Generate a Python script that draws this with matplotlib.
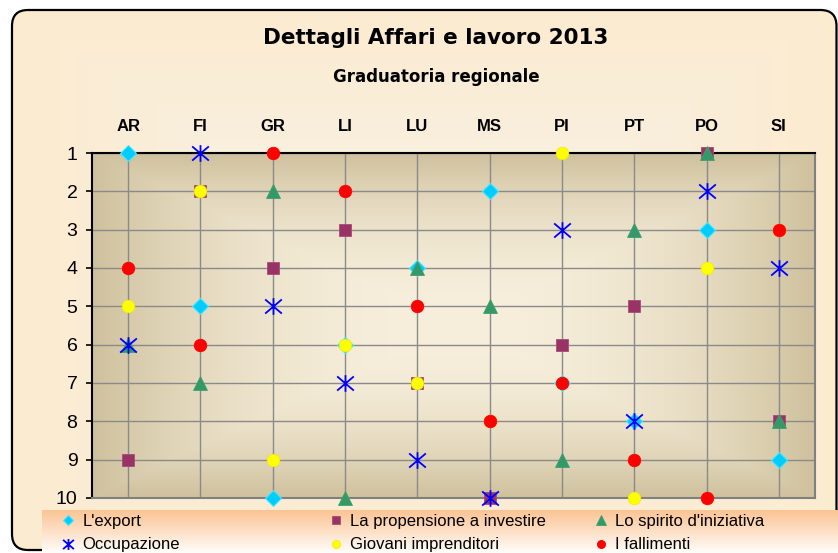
import numpy as np
import matplotlib.pyplot as plt
from matplotlib import font_manager
from matplotlib.patches import FancyBboxPatch
from matplotlib.path import Path

# --------------------------
# Dati (graduatoria 1-10 per provincia)
# --------------------------
province = ["AR", "FI", "GR", "LI", "LU", "MS", "PI", "PT", "PO", "SI"]
export = [1, 5, 10, 6, 4, 2, 7, 8, 3, 9]
propensione = [9, 2, 4, 3, 7, 10, 6, 5, 1, 8]
spirito = [6, 7, 2, 10, 4, 5, 9, 3, 1, 8]
occupazione = [6, 1, 5, 7, 9, 10, 3, 8, 2, 4]
giovani = [5, 2, 9, 6, 7, 8, 1, 10, 4, 3]
fallimenti = [4, 6, 1, 2, 5, 8, 7, 9, 10, 3]
ranghi = list(range(1, 11))

W, H = 838, 553
fig = plt.figure(figsize=(W / 100, H / 100), dpi=100)
fig.patch.set_facecolor("white")


def gradiente(nx, ny, c_centro, c_bordo, k):
    u = np.abs(np.linspace(-1, 1, nx))
    v = np.abs(np.linspace(-1, 1, ny))
    t = np.maximum(u[None, :], v[:, None]) ** k
    c0 = np.array(c_centro) / 255
    c1 = np.array(c_bordo) / 255
    return c0 + (c1 - c0) * t[..., None]


# --------------------------
# Sfondo con cornice arrotondata
# --------------------------
bg = fig.add_axes([0, 0, 1, 1])
bg.axis("off")
cornice = FancyBboxPatch((12, 10), 824.5, 540, boxstyle="round,pad=0,rounding_size=16",
                         fc="none", ec="black", lw=1.6, zorder=3)
bg.add_patch(cornice)
img = bg.imshow(gradiente(400, 300, (247, 242, 231), (252, 235, 207), 1.3),
                extent=(12, 836.5, 550, 10), aspect="auto", zorder=1)
img.set_clip_path(cornice)

# banda della legenda
banda = np.linspace(0, 1, 50)[:, None, None]
c_alto = np.array([251, 196, 148]) / 255
c_basso = np.array([255, 253, 250]) / 255
bg.imshow(c_alto + (c_basso - c_alto) * banda * np.ones((1, 10, 1)),
          extent=(42, 838, 553, 510), aspect="auto", zorder=4)
bg.set_xlim(0, W)
bg.set_ylim(H, 0)

fig.text(436 / W, 1 - 38 / H, "Dettagli Affari e lavoro 2013", ha="center", va="center",
         fontsize=15.5, fontweight="bold")
fig.text(436 / W, 1 - 77 / H, "Graduatoria regionale", ha="center", va="center",
         fontsize=12, fontweight="bold")

# --------------------------
# Grafico
# --------------------------
ax = fig.add_axes([92 / W, 55 / H, 723 / W, 345 / H])
ax.imshow(gradiente(400, 200, (247, 239, 220), (207, 193, 157), 2.2),
          extent=(-0.5, 9.5, 10, 1), aspect="auto", zorder=0)

x = np.arange(len(province))
asterisco = Path([(-1, -0.85), (1, 0.85), (-1, 0.85), (1, -0.85), (0, -1), (0, 1)],
                 [Path.MOVETO, Path.LINETO, Path.MOVETO, Path.LINETO, Path.MOVETO, Path.LINETO])

serie = [
    (export, "L'export", dict(marker="D", ms=8.5, mfc="#00CCFF", mec="#40E8FF", mew=0.8)),
    (propensione, "La propensione a investire", dict(marker="s", ms=9, mfc="#993366", mec="#A94A7A", mew=0.6)),
    (spirito, "Lo spirito d'iniziativa", dict(marker="^", ms=10, mfc="#339966", mec="#40A070", mew=0.6)),
    (occupazione, "Occupazione", dict(marker=asterisco, ms=12, mfc="none", mec="#0000FF", mew=1.3)),
    (giovani, "Giovani imprenditori", dict(marker="o", ms=9, mfc="#FFFF00", mec="#F0F000", mew=0.6)),
    (fallimenti, "I fallimenti", dict(marker="o", ms=9, mfc="#FF0000", mec="#FF0000", mew=0.6)),
]
linee = []
for valori, nome, stile in serie:
    (ln,) = ax.plot(x, valori, linestyle="none", label=nome, clip_on=False, zorder=3, **stile)
    linee.append(ln)

ax.set_xlim(-0.5, 9.5)
ax.set_ylim(10, 1)
ax.set_yticks(ranghi)
ax.set_xticks(x)
ax.set_xticklabels(province, fontweight="bold", fontsize=12, family="Liberation Sans")
ax.xaxis.tick_top()
ax.tick_params(axis="x", length=0, pad=14)
ax.tick_params(axis="y", length=4.5, width=1.2, pad=6, labelsize=14, direction="out")
for lab in ax.get_yticklabels():
    lab.set_family("Liberation Sans")
ax.grid(True, color="#8a8a8a", lw=1.0)
ax.set_axisbelow(True)
for lato in ["top", "left"]:
    ax.spines[lato].set_color("black")
    ax.spines[lato].set_linewidth(1.5)
for lato in ["right", "bottom"]:
    ax.spines[lato].set_color("#808080")
    ax.spines[lato].set_linewidth(1.5)

# --------------------------
# Legenda (3 colonne)
# --------------------------
nomi_font = {f.name for f in font_manager.fontManager.ttflist}
if "Liberation Sans Narrow" in nomi_font:
    font_leg, fs_leg = "Liberation Sans Narrow", 13
else:
    font_leg, fs_leg = "Liberation Sans", 12
fs_px = fs_leg * 100 / 72
colonne = [(68, [0, 3]), (336, [1, 4]), (601, [2, 5])]
for xm, idx in colonne:
    leg = fig.legend([linee[i] for i in idx], [serie[i][1] for i in idx],
                     loc="upper left", bbox_to_anchor=((xm - 0.4 * fs_px) / W, 1 - 514 / H),
                     frameon=False, borderpad=0, borderaxespad=0, handlelength=0.8,
                     handletextpad=0.45, labelspacing=0.5, markerscale=0.65,
                     prop={"family": font_leg, "size": fs_leg})
    leg.set_zorder(5)

fig.savefig("out.png", dpi=100)
